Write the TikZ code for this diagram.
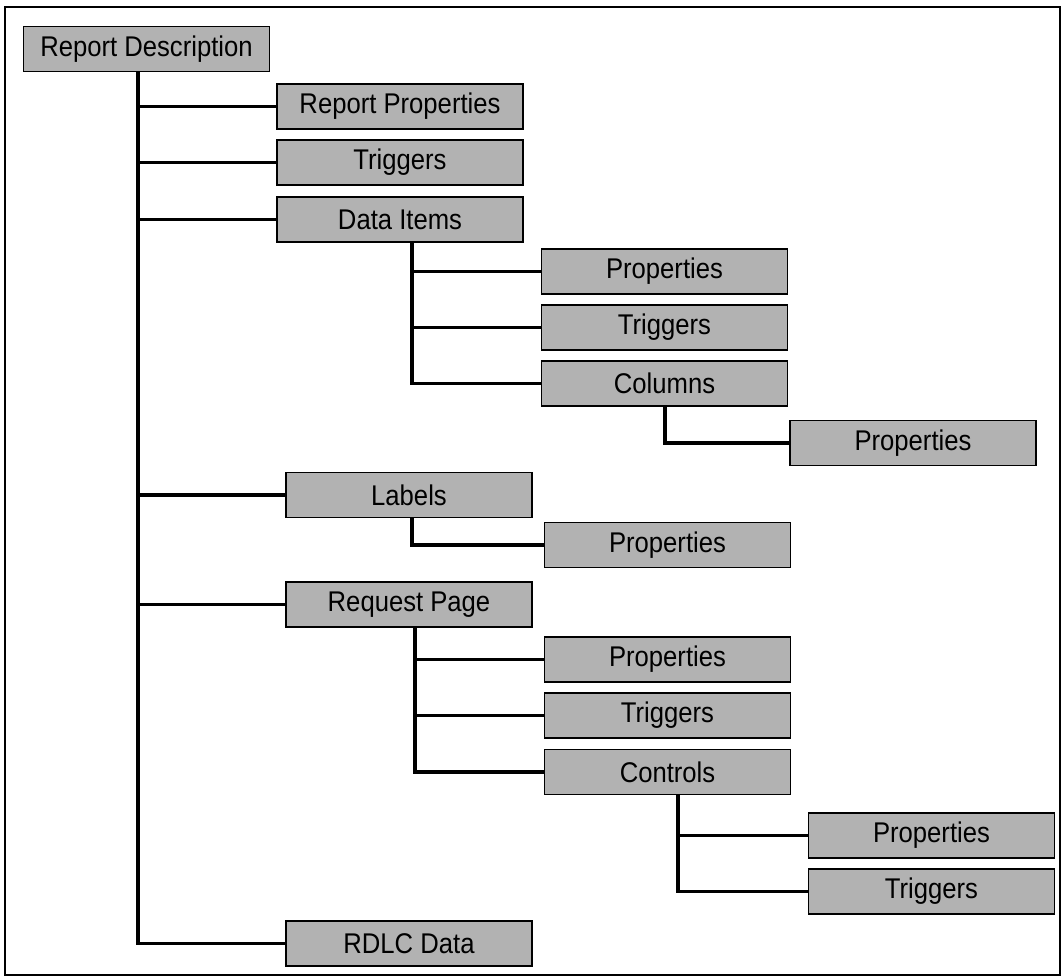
\documentclass[tikz,border=0pt]{standalone}
\usepackage{fontspec}
\setmainfont[FakeStretch=0.9]{Liberation Sans}
\usetikzlibrary{positioning, calc}

\definecolor{boxgray}{RGB}{178,178,178}

\begin{document}
\begin{tikzpicture}[
    x=1pt, y=-1pt,
    box/.style={draw, fill=boxgray, line width=1.8pt, minimum width=246pt, minimum height=45pt, inner sep=0pt, font=\fontsize{28.5}{30}\selectfont},
    link/.style={line width=3.2pt}
]

\useasboundingbox (0,0) rectangle (1063,978);
\draw[line width=2.8pt] (5,7) rectangle (1060,975);

% ================= Nodes =================

% Root
\node[box] (root) at (146.5, 49) {Report Description};

% First level
\node[box] (repprops) at (400, 106.5) {Report Properties};
\node[box] (reptrig) at (400, 162.5) {Triggers};
\node[box] (dataitems) at (400, 219.5) {Data Items};
\node[box] (labels) at (409, 495) {Labels};
\node[box] (reqpage) at (409, 604.5) {Request Page};
\node[box] (rdlc) at (409, 943.5) {RDLC Data};

% Data Items children
\node[box] (diprops) at (664.5, 271.5) {Properties};
\node[box] (ditrig) at (664.5, 327.5) {Triggers};
\node[box] (columns) at (664.5, 383.5) {Columns};
\node[box] (colprops) at (913, 443) {Properties};

% Labels child
\node[box] (lblprops) at (667.5, 545) {Properties};

% Request Page children
\node[box] (rpprops) at (667.5, 659.5) {Properties};
\node[box] (rptrig) at (667.5, 715.5) {Triggers};
\node[box] (controls) at (667.5, 772) {Controls};
\node[box] (ctlprops) at (931.5, 835.5) {Properties};
\node[box] (ctltrig) at (931.5, 891.5) {Triggers};

% ================= Edges =================

% Root trunk
\coordinate (roottop) at ([xshift=-8.5pt]root.south);
\foreach \c in {repprops, reptrig, dataitems, labels, reqpage, rdlc}
    \draw[link] (roottop) |- (\c.west);

% Data Items trunk
\coordinate (ditop) at ([xshift=12pt]dataitems.south);
\foreach \c in {diprops, ditrig, columns}
    \draw[link] (ditop) |- (\c.west);

% Columns
\draw[link] ([xshift=0.5pt]columns.south) |- (colprops.west);

% Labels
\draw[link] ([xshift=3pt]labels.south) |- (lblprops.west);

% Request Page trunk
\coordinate (rptop) at ([xshift=6pt]reqpage.south);
\foreach \c in {rpprops, rptrig, controls}
    \draw[link] (rptop) |- (\c.west);

% Controls trunk
\coordinate (ctltop) at ([xshift=10.5pt]controls.south);
\foreach \c in {ctlprops, ctltrig}
    \draw[link] (ctltop) |- (\c.west);

\end{tikzpicture}
\end{document}
